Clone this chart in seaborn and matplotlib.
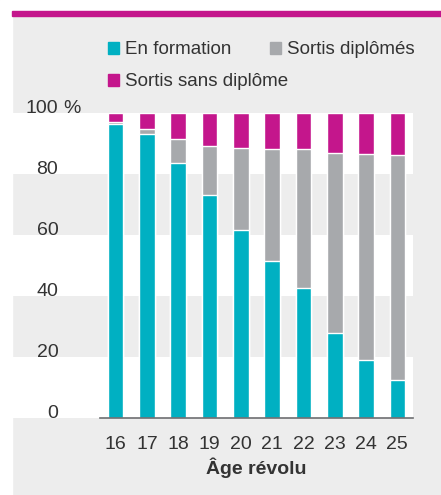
import pandas as pd
import seaborn as sns
import matplotlib.pyplot as plt
from matplotlib.patches import Rectangle, Patch

# Share of young people by age and situation (%)
ages = ["16", "17", "18", "19", "20", "21", "22", "23", "24", "25"]
en_formation = [96.5, 93.0, 83.7, 73.0, 61.6, 51.6, 42.5, 27.9, 18.9, 12.5]
sortis_diplomes = [0.4, 1.7, 7.8, 16.3, 27.0, 36.7, 45.6, 58.9, 67.7, 73.6]
sortis_sans_diplome = [3.1, 5.3, 8.5, 10.7, 11.4, 11.7, 11.9, 13.2, 13.4, 13.9]

CYAN = "#00b0c2"
GREY = "#a7a9ac"
MAGENTA = "#c4168c"
BG = "#ededed"
TXT = "#333333"
FS = 14
FS_LEG = 13.5

df = pd.DataFrame({
    "age": ages,
    "formation": en_formation,
    "diplomes": sortis_diplomes,
    "sans": sortis_sans_diplome,
})
df["cum2"] = df["formation"] + df["diplomes"]
df["cum3"] = df["cum2"] + df["sans"]

sns.set_style("white")
plt.rcParams["font.family"] = ["Liberation Sans", "DejaVu Sans"]

W, H = 441, 495
fig = plt.figure(figsize=(W / 100, H / 100), dpi=100, facecolor=BG)
ax = fig.add_axes([100 / W, 1 - 418 / H, 313 / W, 305 / H])
ax.set_facecolor("none")

# white strips around the grey panel and the magenta rule on top
fig.add_artist(Rectangle((0, 0), 12 / W, 1, transform=fig.transFigure,
                         color="white", zorder=-1))
fig.add_artist(Rectangle((0, 1 - 11 / H), 1, 11 / H, transform=fig.transFigure,
                         color="white", zorder=-1))
fig.add_artist(Rectangle((12 / W, 1 - 16 / H), 1, 5 / H, transform=fig.transFigure,
                         color=MAGENTA, zorder=-1))

# alternating white bands
for lo in [0, 40, 80]:
    ax.axhspan(lo, lo + 20, xmin=(12 - 100) / 313, xmax=1, color="white",
               zorder=0, clip_on=False, lw=0)

# stacked bars
sns.barplot(data=df, x="age", y="cum3", color=MAGENTA, saturation=1, width=0.5,
            ax=ax, zorder=2)
sns.barplot(data=df, x="age", y="cum2", color=GREY, saturation=1, width=0.5,
            ax=ax, zorder=2)
sns.barplot(data=df, x="age", y="formation", color=CYAN, saturation=1, width=0.5,
            ax=ax, zorder=2)

ax.set_xlim(-0.5, 9.5)
ax.set_ylim(0, 100)

for s in ["left", "top", "right"]:
    ax.spines[s].set_visible(False)
ax.spines["bottom"].set_color("#6d6e71")
ax.spines["bottom"].set_linewidth(1.2)

ax.set_xticks(range(len(ages)))
ax.set_xticks([i - 0.5 for i in range(len(ages) + 1)], minor=True)
ax.tick_params(axis="x", which="major", length=0, pad=13, labelsize=FS,
               labelcolor=TXT)
ax.tick_params(axis="x", which="minor", length=4.5, width=1, color="#6d6e71",
               direction="out")

ax.set_yticks([0, 20, 40, 60, 80, 100])
ax.set_yticklabels(["0", "20", "40", "60", "80", "100"])
ax.tick_params(axis="y", length=0, pad=30, labelsize=FS, labelcolor=TXT)
for lab in ax.get_yticklabels():
    lab.set_verticalalignment("baseline")
ax.text((63 - 100) / 313, 100, "%", transform=ax.get_yaxis_transform(),
        ha="left", va="baseline", fontsize=FS, color=TXT)

ax.set_xlabel("Âge révolu", fontsize=FS, fontweight="bold", color=TXT,
              labelpad=3)
ax.set_ylabel("")

# legend, one entry per box so each sits where the reference puts it
entries = [
    (CYAN, "En formation", 108, 50),
    (GREY, "Sortis diplômés", 270, 50),
    (MAGENTA, "Sortis sans diplôme", 108, 82),
]
for col, lab, px, py in entries:
    fig.legend(handles=[Patch(color=col, label=lab)], frameon=False,
               fontsize=FS_LEG, handlelength=0.6, handleheight=0.6,
               handletextpad=0.3, borderpad=0, borderaxespad=0,
               labelcolor=TXT, loc="center left",
               bbox_to_anchor=(px / W, 1 - py / H))

fig.savefig("out.png", dpi=100, facecolor=BG)
